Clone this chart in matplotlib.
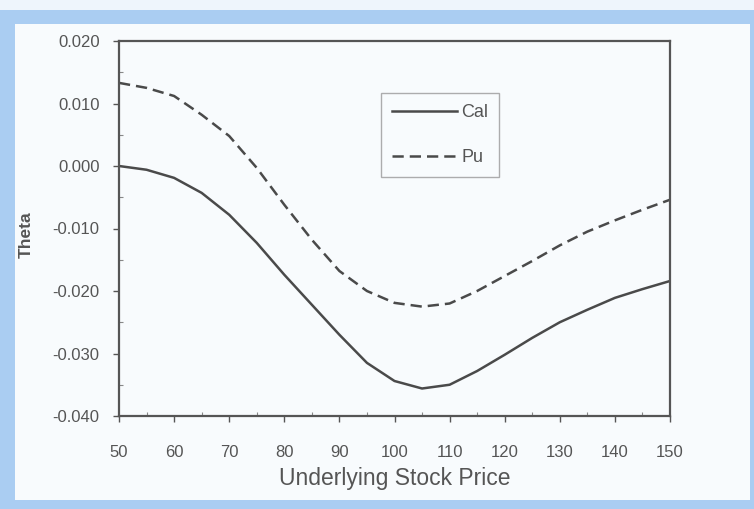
import matplotlib
matplotlib.use("Agg")
import matplotlib.pyplot as plt
from matplotlib.patches import Rectangle
from matplotlib.ticker import MultipleLocator, FormatStrFormatter

plt.rcParams['font.family'] = ['Liberation Sans', 'DejaVu Sans']

price = [50, 55, 60, 65, 70, 75, 80, 85, 90, 95, 100, 105, 110, 115, 120, 125, 130, 135, 140, 145, 150]
call_theta = [0.0000, -0.0006, -0.0019, -0.0043, -0.0078, -0.0123, -0.0174, -0.0222, -0.0270, -0.0315,
              -0.0344, -0.0356, -0.0350, -0.0328, -0.0302, -0.0275, -0.0250, -0.0230, -0.0211, -0.0197, -0.0184]
put_theta = [0.0133, 0.0125, 0.0112, 0.0082, 0.0048, -0.0003, -0.0062, -0.0118, -0.0168, -0.0200,
             -0.0219, -0.0225, -0.0220, -0.0200, -0.0176, -0.0152, -0.0127, -0.0105, -0.0087, -0.0070, -0.0054]
labels = ["Cal", "Pu"]
xlabel = "Underlying Stock Price"
ylabel = "Theta"

W, H = 754, 509
fig = plt.figure(figsize=(W / 100, H / 100), dpi=100)
fig.patch.set_facecolor("#aacdf2")
fig.patches.append(Rectangle((0, (H - 10) / H), 1, 10 / H, transform=fig.transFigure,
                             facecolor="#eef5fc", edgecolor="none", zorder=-2))
fig.patches.append(Rectangle((15 / W, 9 / H), (750 - 15) / W, (500 - 24) / H,
                             transform=fig.transFigure, facecolor="#f8fbfd",
                             edgecolor="none", zorder=-1))

ax = fig.add_axes([119 / W, 1 - 416 / H, (670 - 119) / W, (416 - 41) / H])
ax.set_zorder(5)
ax.set_facecolor("#f8fbfd")
lc = "#4a4a4a"
ax.plot(price, call_theta, color=lc, lw=1.8, ls="-", label=labels[0])
ax.plot(price, put_theta, color=lc, lw=1.8, ls=(0, (4.5, 2.4)), label=labels[1])

ax.set_xlim(50, 150)
ax.set_ylim(-0.04, 0.02)
ax.xaxis.set_major_locator(MultipleLocator(10))
ax.yaxis.set_major_locator(MultipleLocator(0.01))
ax.xaxis.set_minor_locator(MultipleLocator(5))
ax.yaxis.set_minor_locator(MultipleLocator(0.005))
ax.yaxis.set_major_formatter(FormatStrFormatter("%.3f"))
for s in ax.spines.values():
    s.set_color("#555555")
    s.set_linewidth(1.6)
ax.tick_params(axis="both", which="major", direction="out", length=4, width=1,
               colors="#555555", labelcolor="#555555", labelsize=12)
ax.tick_params(axis="both", which="minor", direction="in", length=3, width=0.8, colors="#888888")
ax.tick_params(axis="x", pad=17)
ax.tick_params(axis="y", pad=10)

ax.set_xlabel(xlabel, fontsize=16.5, color="#555555")
ax.xaxis.set_label_coords(0.5, -(478 - 416) / 375, transform=ax.transAxes)
ax.xaxis.label.set_va("center")
ax.set_ylabel(ylabel, fontsize=12.5, color="#555555", fontweight="bold")
ax.yaxis.set_label_coords((26 - 119) / 551, 1 - (235 - 41) / 375, transform=ax.transAxes)
ax.yaxis.label.set_va("center")

leg = ax.legend(loc="upper left", bbox_to_anchor=((381 - 119) / 551, 1 - (93 - 41) / 375),
                frameon=True, fontsize=13, handlelength=3.6, handletextpad=0.25,
                labelspacing=1.55, borderpad=0.6, fancybox=False, borderaxespad=0)
leg.get_frame().set_edgecolor("#999999")
leg.get_frame().set_facecolor("#f8fbfd")
leg.get_frame().set_linewidth(1.0)
for t in leg.get_texts():
    t.set_color("#555555")

fig.savefig("out.png", dpi=100, facecolor=fig.get_facecolor())
